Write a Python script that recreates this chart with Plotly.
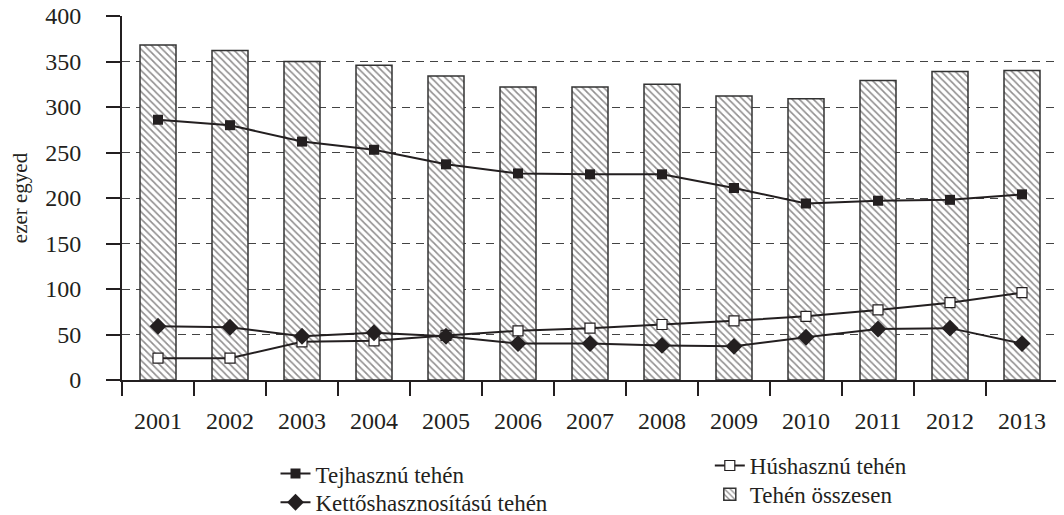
import plotly.graph_objects as go

years = ["2001","2002","2003","2004","2005","2006","2007","2008","2009","2010","2011","2012","2013"]
osszesen = [368, 362, 350, 346, 334, 322, 322, 325, 312, 309, 329, 339, 340]
tej = [286, 280, 262, 253, 237, 227, 226, 226, 211, 194, 197, 198, 204]
hus = [24, 24, 42, 43, 49, 54, 57, 61, 65, 70, 77, 85, 96]
kettos = [59, 58, 48, 52, 48, 40, 40, 38, 37, 47, 56, 57, 40]

ink = "#231f20"
font = "Liberation Serif"
fs = 24

fig = go.Figure()
fig.add_trace(go.Bar(
    x=years, y=osszesen, name="Tehén összesen", legend="legend4", showlegend=True,
    marker=dict(color="white", line=dict(color="#333333", width=1.5),
                pattern=dict(shape="\\", fgcolor=ink, bgcolor="white", size=5, solidity=0.33)),
))
fig.add_trace(go.Scatter(
    x=years, y=tej, name="Tejhasznú tehén", mode="lines+markers", legend="legend",
    showlegend=True,
    line=dict(color=ink, width=2), marker=dict(symbol="square", size=10, color=ink),
))
fig.add_trace(go.Scatter(
    x=years, y=hus, name="Húshasznú tehén", mode="lines+markers", legend="legend3",
    showlegend=True,
    line=dict(color=ink, width=2),
    marker=dict(symbol="square", size=10, color="white", line=dict(color=ink, width=1.2)),
))
fig.add_trace(go.Scatter(
    x=years, y=kettos, name="Kettőshasznosítású tehén", mode="lines+markers", legend="legend2",
    showlegend=True,
    line=dict(color=ink, width=2), marker=dict(symbol="diamond", size=13, color=ink),
))

leg_common = dict(orientation="v", xanchor="left", yanchor="top", traceorder="normal",
                  font=dict(family=font, size=23, color=ink), tracegroupgap=0,
                  bgcolor="rgba(0,0,0,0)", visible=True)

fig.update_layout(
    width=1056, height=507,
    showlegend=True,
    margin=dict(l=114, r=6, t=8, b=135, autoexpand=False),
    paper_bgcolor="white", plot_bgcolor="white",
    font=dict(family=font, size=fs, color=ink),
    bargap=0.5,
    legend=dict(x=0.164, y=-0.198, **leg_common),
    legend2=dict(x=0.164, y=-0.277, **leg_common),
    legend3=dict(x=0.628, y=-0.176, **leg_common),
    legend4=dict(x=0.628, y=-0.255, **leg_common),
    xaxis=dict(type="category", range=[-0.5, len(years) - 0.5], showline=True,
               linecolor=ink, linewidth=2,
               ticks="outside", tickson="boundaries", ticklen=14, tickwidth=2,
               tickcolor=ink, showgrid=False, automargin=False, ticklabelstandoff=18,
               tickfont=dict(family=font, size=fs)),
    yaxis=dict(range=[0, 400], dtick=50, showline=True, linecolor=ink, linewidth=2,
               ticks="outside", ticklen=14, tickwidth=2, tickcolor=ink,
               showgrid=True, gridcolor="#444444", gridwidth=1, griddash="8px,6px",
               zeroline=False, automargin=False, ticklabelstandoff=20,
               ticklabeloverflow="allow",
               tickfont=dict(family=font, size=fs),
               title=dict(text="ezer egyed", font=dict(family=font, size=21), standoff=28)),
)

fig.write_html("out.html")
